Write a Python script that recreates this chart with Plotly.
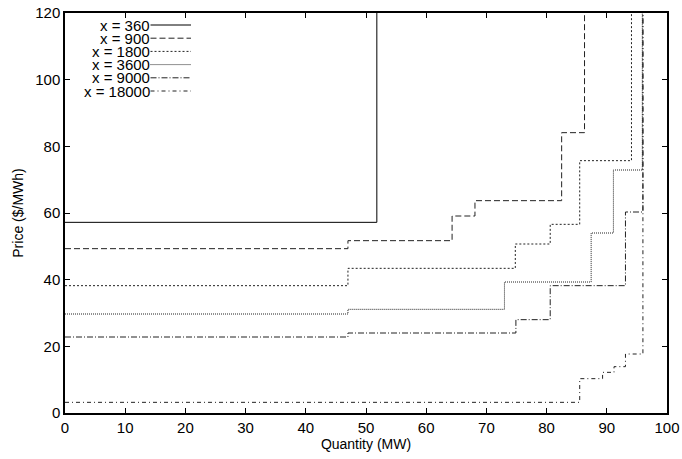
import plotly.graph_objects as go

# Step supply curves: breakpoints (MW) and prices ($/MWh)
labels = ["x = 360", "x = 900", "x = 1800", "x = 3600", "x = 9000", "x = 18000"]
q_360 = [0, 51.8]
p_360 = [57.2, 120]
q_900 = [0, 47.0, 64.3, 68.1, 82.5, 86.3]
p_900 = [49.3, 51.7, 59.1, 63.7, 84.1, 120]
q_1800 = [0, 47.0, 74.8, 80.6, 85.5, 94.1]
p_1800 = [38.2, 43.4, 50.7, 56.6, 75.7, 120]
q_3600 = [0, 47.0, 73.0, 87.4, 91.1, 95.9]
p_3600 = [29.7, 31.1, 39.3, 54.0, 72.9, 120]
q_9000 = [0, 47.0, 74.9, 80.6, 93.1, 96.0]
p_9000 = [22.8, 24.0, 28.0, 38.2, 60.3, 120]
q_18000 = [0, 85.5, 89.3, 91.2, 93.1, 96.0]
p_18000 = [3.2, 10.3, 12.2, 13.9, 17.7, 120]

x_ticks = [0, 10, 20, 30, 40, 50, 60, 70, 80, 90, 100]
y_ticks = [0, 20, 40, 60, 80, 100, 120]

series = [(q_360, p_360), (q_900, p_900), (q_1800, p_1800),
          (q_3600, p_3600), (q_9000, p_9000), (q_18000, p_18000)]
dashes = ["solid", "6px,3px", "2px,2px", "1px,1px", "6px,2px,1px,2px", "4px,3px,1px,3px"]
colors = ["#000000", "#222222", "#222222", "#222222", "#222222", "#222222"]

FONT = "Liberation Sans, Arial, sans-serif"
fig = go.Figure()
for (q, p), lab, d, c in zip(series, labels, dashes, colors):
    fig.add_trace(go.Scatter(x=q, y=p, mode="lines", name=lab,
                             line=dict(shape="hv", dash=d, color=c, width=1),
                             showlegend=False, cliponaxis=False))

# gnuplot-style key: right-aligned text followed by line sample
L, R, T, B = 65, 15, 13, 46
W, H = 682, 459
pw, ph = W - L - R, H - T - B
for i, (lab, d, c) in enumerate(zip(labels, dashes, colors)):
    ypix = 25 + 13.2 * i
    yp = 1 - (ypix - T) / ph
    xt = (150.5 - L) / pw
    xe = (191 - L) / pw
    fig.add_annotation(x=xt, y=yp, xref="paper", yref="paper", text=lab,
                       showarrow=False, xanchor="right", yanchor="middle", borderpad=0,
                       font=dict(family=FONT, size=15, color="black"))
    fig.add_shape(type="line", xref="paper", yref="paper", x0=xt, x1=xe, y0=yp, y1=yp,
                  line=dict(color=c, width=1, dash=d))

axis_common = dict(showline=True, linecolor="black", linewidth=1.5, mirror="ticks",
                   ticks="inside", ticklen=5, tickwidth=1, tickcolor="black",
                   showgrid=False, zeroline=False, automargin=False,
                   tickfont=dict(family=FONT, size=15, color="black"))
fig.update_xaxes(range=[0, 100], tickvals=x_ticks, ticktext=[str(v) for v in x_ticks],
                 title=dict(text="Quantity (MW)", font=dict(family=FONT, size=14, color="black"), standoff=3),
                 **axis_common)
fig.update_yaxes(range=[0, 120], tickvals=y_ticks, ticktext=[str(v) for v in y_ticks],
                 title=dict(text="Price ($/MWh)", font=dict(family=FONT, size=14, color="black"), standoff=8),
                 **axis_common)
fig.update_layout(width=W, height=H, margin=dict(l=L, r=R, t=T, b=B),
                  plot_bgcolor="white", paper_bgcolor="white")
fig.write_html("out.html", config={"displayModeBar": False},
               post_script="document.body.style.margin='0';document.body.style.overflow='hidden';")
